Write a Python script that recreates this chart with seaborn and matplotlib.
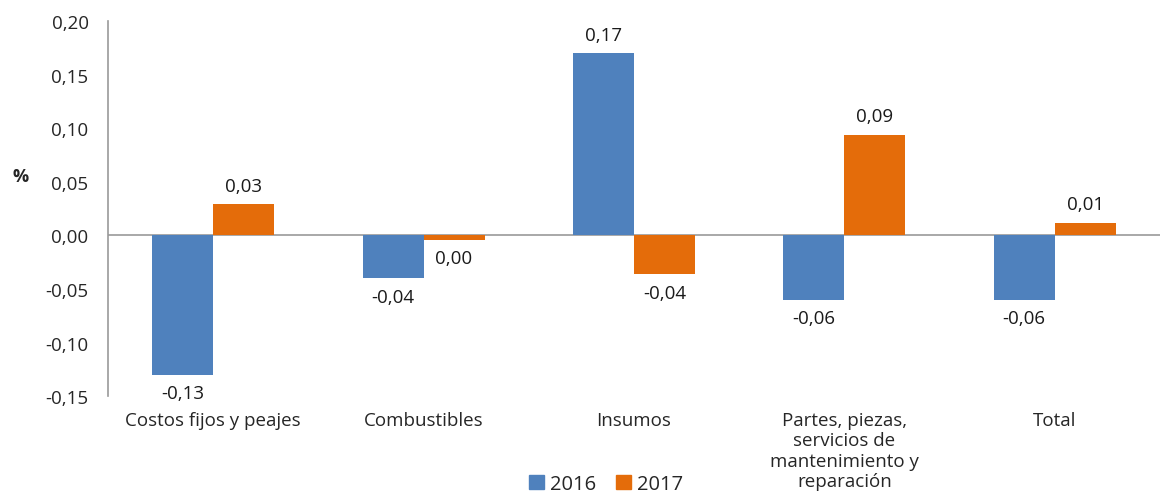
import pandas as pd
import matplotlib.pyplot as plt
import seaborn as sns

categories = ['Costos fijos y peajes', 'Combustibles', 'Insumos',
              'Partes, piezas,\nservicios de\nmantenimiento y\nreparación', 'Total']
years = ['2016', '2017']
values_2016 = [-0.130, -0.040, 0.170, -0.060, -0.060]
values_2017 = [0.029, -0.004, -0.036, 0.094, 0.012]

colors = ['#4F81BD', '#E46C0A']

df = pd.DataFrame({
    'Categoria': categories * 2,
    'Año': [years[0]] * 5 + [years[1]] * 5,
    'Valor': values_2016 + values_2017,
})

sns.set_style('white')
plt.rcParams['font.family'] = ['Open Sans', 'DejaVu Sans']

fig = plt.figure(figsize=(11.61, 5.02), dpi=100)
ax = fig.add_axes([0.093, 0.209, 0.906, 0.747])

sns.barplot(data=df, x='Categoria', y='Valor', hue='Año', palette=colors,
            width=0.58, saturation=1, linewidth=0, ax=ax, legend=True)

def fmt(v):
    s = f'{v:.2f}'
    if s == '-0.00':
        s = '0.00'
    return s.replace('.', ',')

for container in ax.containers:
    ax.bar_label(container, labels=[fmt(b.get_height()) for b in container],
                 padding=7, fontsize=13.5, color='#1a1a1a')

ax.set_ylim(-0.15, 0.20)
ax.set_yticks([-0.15, -0.10, -0.05, 0.0, 0.05, 0.10, 0.15, 0.20])
ax.set_yticklabels([f'{t:.2f}'.replace('.', ',') for t in ax.get_yticks()], fontsize=13.5)
ax.axhline(0, color='#999999', linewidth=1.2, zorder=0)

for side in ['top', 'right', 'bottom']:
    ax.spines[side].set_visible(False)
ax.spines['left'].set_color('#999999')
ax.spines['left'].set_linewidth(1.2)
ax.tick_params(axis='y', length=0, pad=14)
ax.tick_params(axis='x', length=0, pad=11, labelsize=13.5)
for lbl in ax.get_xticklabels():
    lbl.set_linespacing(1.15)
    lbl.set_va('top')
ax.set_xlabel('')
ax.set_ylabel('')
fig.text(0.018, 0.648, '%', fontsize=13, fontweight='bold', ha='center', va='center')

ax.get_legend().remove()
handles = [plt.Rectangle((0, 0), 1, 1, color=c) for c in colors]
fig.legend(handles, years, loc='lower center', bbox_to_anchor=(0.522, -0.022),
           ncol=2, frameon=False, fontsize=14.5, handlelength=0.75, handleheight=0.75,
           handletextpad=0.3, columnspacing=1.0)

fig.savefig('out.png', dpi=100)
